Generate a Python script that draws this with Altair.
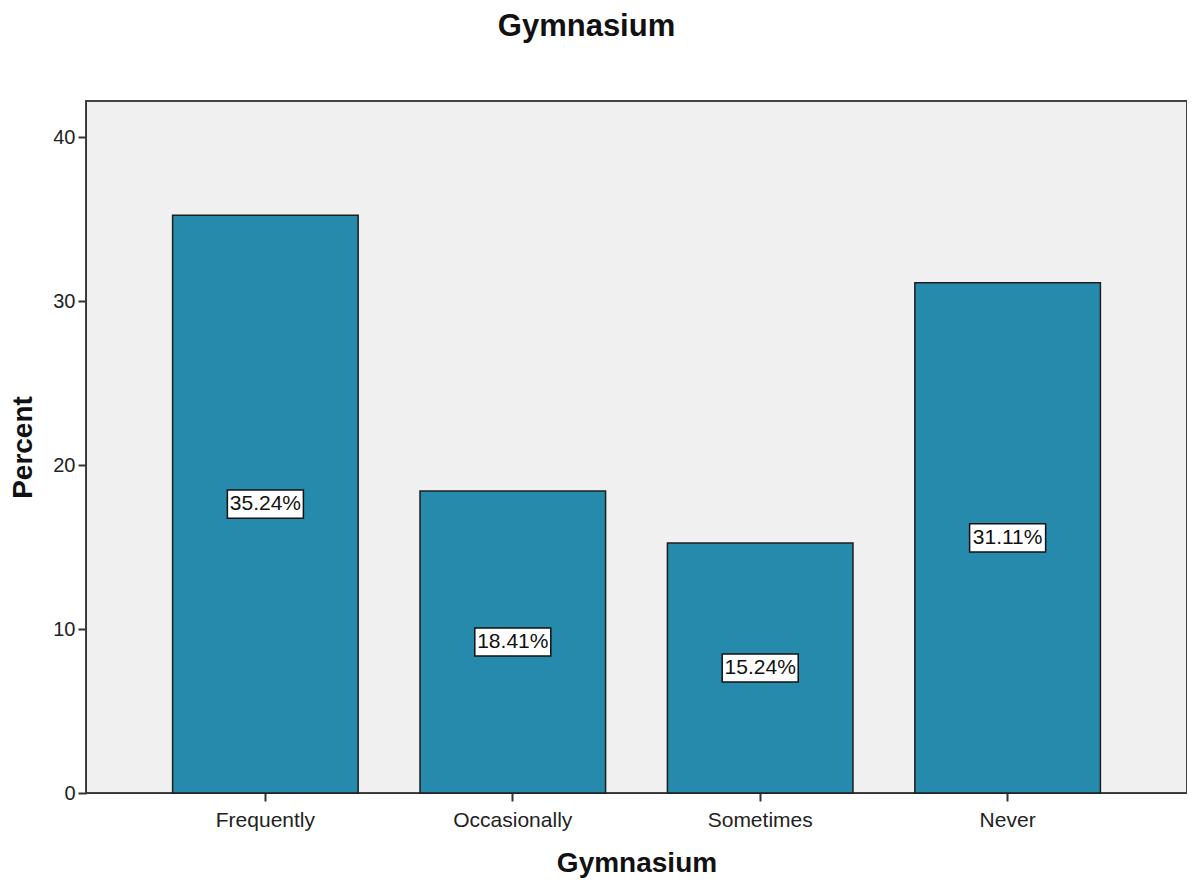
import altair as alt
import pandas as pd

categories = ["Frequently", "Occasionally", "Sometimes", "Never"]
percents = [35.24, 18.41, 15.24, 31.11]
labels = ["35.24%", "18.41%", "15.24%", "31.11%"]

df = pd.DataFrame({"cat": categories, "pct": percents, "lab": labels})

FONT = "Liberation Sans"

x = alt.X("cat:N", sort=categories,
          scale=alt.Scale(paddingInner=0.25, paddingOuter=0.35),
          axis=alt.Axis(title="Gymnasium", labelAngle=0, labelFontSize=21,
                        titleFontSize=28, titleFontWeight="bold",
                        tickSize=8, labelPadding=8, titlePadding=19,
                        domainColor="#333333", tickColor="#333333", tickWidth=2,
                        labelColor="#222222", titleColor="#111111"))

y = alt.Y("pct:Q", scale=alt.Scale(domain=[0, 42.2], nice=False),
          axis=alt.Axis(title="Percent", values=[0, 10, 20, 30, 40], grid=False,
                        labelFontSize=20, titleFontSize=28, titleFontWeight="bold",
                        tickSize=8, labelPadding=3, titlePadding=15,
                        domainColor="#333333", tickColor="#333333", tickWidth=2,
                        labelColor="#222222", titleColor="#111111"))

base = alt.Chart(df)

bars = base.mark_bar(color="#258AAC", stroke="#1e1e1e", strokeWidth=1.5).encode(x=x, y=y)

mid = base.transform_calculate(mid="datum.pct / 2")

box = mid.mark_point(
    shape="M-1,-0.37L1,-0.37L1,0.37L-1,0.37Z",
    size=5776, filled=True, fill="white", stroke="#111111", strokeWidth=1.5, opacity=1
).encode(x=alt.X("cat:N", sort=categories), y=alt.Y("mid:Q"))

text = mid.mark_text(fontSize=21, font=FONT, color="#111111", baseline="middle").encode(
    x=alt.X("cat:N", sort=categories), y=alt.Y("mid:Q"), text="lab:N")

chart = alt.layer(bars, box, text).properties(
    width=1101, height=692,
    title=alt.TitleParams("Gymnasium", fontSize=31, fontWeight="bold", font=FONT,
                          color="#111111", anchor="middle", dx=-50, offset=58),
    autosize=alt.AutoSizeParams(type="none"),
    padding={"left": 78, "top": 93, "right": 0, "bottom": 86},
).configure(font=FONT).configure_axis(labelFont=FONT, titleFont=FONT).configure_view(
    fill="#F0F0F0", stroke="#444444", strokeWidth=2
)

chart.save("out.html", embed_options={"renderer": "svg", "actions": False})
